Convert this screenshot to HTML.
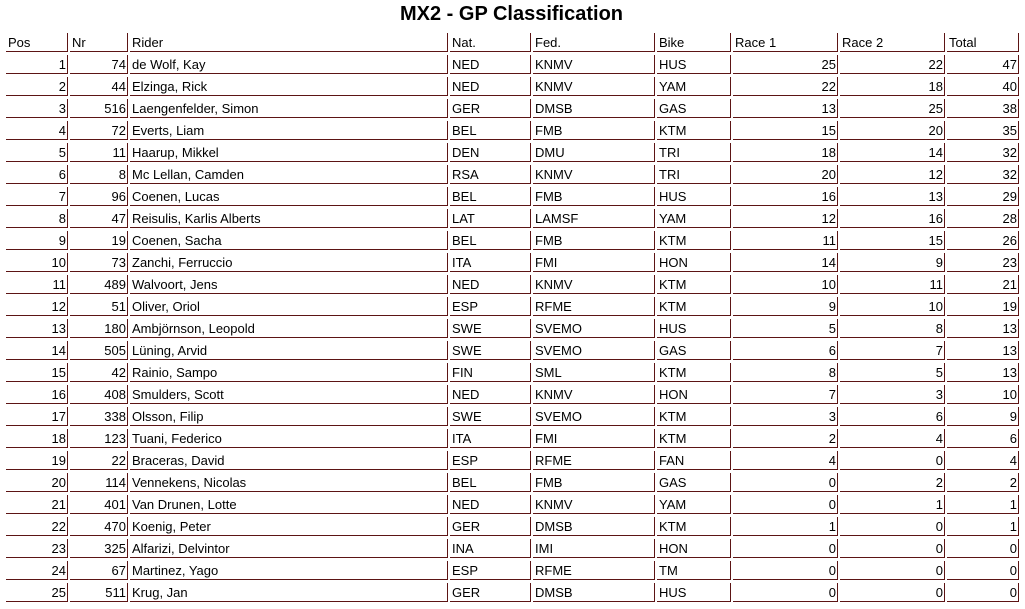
<!DOCTYPE html>
<html>
<head>
<meta charset="utf-8">
<style>
html,body{margin:0;padding:0;background:#fff;}
body{width:1025px;height:609px;position:relative;overflow:hidden;font-family:"Liberation Sans",Arial,sans-serif;color:#000;}
.title{position:absolute;left:0;top:4px;width:1023px;text-align:center;font-weight:bold;font-size:20px;line-height:20px;}
table{position:absolute;left:4px;top:30px;border-collapse:separate;border-spacing:2px 3px;table-layout:fixed;width:1017px;font-size:13px;}
td{box-sizing:border-box;border-right:1px solid #5c1414;border-bottom:1px solid #5c1414;padding:1px 1px 0 2px;height:19px;line-height:17px;white-space:nowrap;overflow:hidden;vertical-align:top;}
td.r{text-align:right;}
</style>
</head>
<body>
<div class="title">MX2 - GP Classification</div>
<table>
<colgroup>
<col style="width:62px"><col style="width:58px"><col style="width:318px"><col style="width:81px"><col style="width:122px"><col style="width:74px"><col style="width:105px"><col style="width:105px"><col style="width:72px">
</colgroup>
<tr class="h"><td>Pos</td><td>Nr</td><td>Rider</td><td>Nat.</td><td>Fed.</td><td>Bike</td><td>Race 1</td><td>Race 2</td><td>Total</td></tr>
<tr><td class="r">1</td><td class="r">74</td><td>de Wolf, Kay</td><td>NED</td><td>KNMV</td><td>HUS</td><td class="r">25</td><td class="r">22</td><td class="r">47</td></tr>
<tr><td class="r">2</td><td class="r">44</td><td>Elzinga, Rick</td><td>NED</td><td>KNMV</td><td>YAM</td><td class="r">22</td><td class="r">18</td><td class="r">40</td></tr>
<tr><td class="r">3</td><td class="r">516</td><td>Laengenfelder, Simon</td><td>GER</td><td>DMSB</td><td>GAS</td><td class="r">13</td><td class="r">25</td><td class="r">38</td></tr>
<tr><td class="r">4</td><td class="r">72</td><td>Everts, Liam</td><td>BEL</td><td>FMB</td><td>KTM</td><td class="r">15</td><td class="r">20</td><td class="r">35</td></tr>
<tr><td class="r">5</td><td class="r">11</td><td>Haarup, Mikkel</td><td>DEN</td><td>DMU</td><td>TRI</td><td class="r">18</td><td class="r">14</td><td class="r">32</td></tr>
<tr><td class="r">6</td><td class="r">8</td><td>Mc Lellan, Camden</td><td>RSA</td><td>KNMV</td><td>TRI</td><td class="r">20</td><td class="r">12</td><td class="r">32</td></tr>
<tr><td class="r">7</td><td class="r">96</td><td>Coenen, Lucas</td><td>BEL</td><td>FMB</td><td>HUS</td><td class="r">16</td><td class="r">13</td><td class="r">29</td></tr>
<tr><td class="r">8</td><td class="r">47</td><td>Reisulis, Karlis Alberts</td><td>LAT</td><td>LAMSF</td><td>YAM</td><td class="r">12</td><td class="r">16</td><td class="r">28</td></tr>
<tr><td class="r">9</td><td class="r">19</td><td>Coenen, Sacha</td><td>BEL</td><td>FMB</td><td>KTM</td><td class="r">11</td><td class="r">15</td><td class="r">26</td></tr>
<tr><td class="r">10</td><td class="r">73</td><td>Zanchi, Ferruccio</td><td>ITA</td><td>FMI</td><td>HON</td><td class="r">14</td><td class="r">9</td><td class="r">23</td></tr>
<tr><td class="r">11</td><td class="r">489</td><td>Walvoort, Jens</td><td>NED</td><td>KNMV</td><td>KTM</td><td class="r">10</td><td class="r">11</td><td class="r">21</td></tr>
<tr><td class="r">12</td><td class="r">51</td><td>Oliver, Oriol</td><td>ESP</td><td>RFME</td><td>KTM</td><td class="r">9</td><td class="r">10</td><td class="r">19</td></tr>
<tr><td class="r">13</td><td class="r">180</td><td>Ambjörnson, Leopold</td><td>SWE</td><td>SVEMO</td><td>HUS</td><td class="r">5</td><td class="r">8</td><td class="r">13</td></tr>
<tr><td class="r">14</td><td class="r">505</td><td>Lüning, Arvid</td><td>SWE</td><td>SVEMO</td><td>GAS</td><td class="r">6</td><td class="r">7</td><td class="r">13</td></tr>
<tr><td class="r">15</td><td class="r">42</td><td>Rainio, Sampo</td><td>FIN</td><td>SML</td><td>KTM</td><td class="r">8</td><td class="r">5</td><td class="r">13</td></tr>
<tr><td class="r">16</td><td class="r">408</td><td>Smulders, Scott</td><td>NED</td><td>KNMV</td><td>HON</td><td class="r">7</td><td class="r">3</td><td class="r">10</td></tr>
<tr><td class="r">17</td><td class="r">338</td><td>Olsson, Filip</td><td>SWE</td><td>SVEMO</td><td>KTM</td><td class="r">3</td><td class="r">6</td><td class="r">9</td></tr>
<tr><td class="r">18</td><td class="r">123</td><td>Tuani, Federico</td><td>ITA</td><td>FMI</td><td>KTM</td><td class="r">2</td><td class="r">4</td><td class="r">6</td></tr>
<tr><td class="r">19</td><td class="r">22</td><td>Braceras, David</td><td>ESP</td><td>RFME</td><td>FAN</td><td class="r">4</td><td class="r">0</td><td class="r">4</td></tr>
<tr><td class="r">20</td><td class="r">114</td><td>Vennekens, Nicolas</td><td>BEL</td><td>FMB</td><td>GAS</td><td class="r">0</td><td class="r">2</td><td class="r">2</td></tr>
<tr><td class="r">21</td><td class="r">401</td><td>Van Drunen, Lotte</td><td>NED</td><td>KNMV</td><td>YAM</td><td class="r">0</td><td class="r">1</td><td class="r">1</td></tr>
<tr><td class="r">22</td><td class="r">470</td><td>Koenig, Peter</td><td>GER</td><td>DMSB</td><td>KTM</td><td class="r">1</td><td class="r">0</td><td class="r">1</td></tr>
<tr><td class="r">23</td><td class="r">325</td><td>Alfarizi, Delvintor</td><td>INA</td><td>IMI</td><td>HON</td><td class="r">0</td><td class="r">0</td><td class="r">0</td></tr>
<tr><td class="r">24</td><td class="r">67</td><td>Martinez, Yago</td><td>ESP</td><td>RFME</td><td>TM</td><td class="r">0</td><td class="r">0</td><td class="r">0</td></tr>
<tr><td class="r">25</td><td class="r">511</td><td>Krug, Jan</td><td>GER</td><td>DMSB</td><td>HUS</td><td class="r">0</td><td class="r">0</td><td class="r">0</td></tr>
</table>
</body>
</html>
